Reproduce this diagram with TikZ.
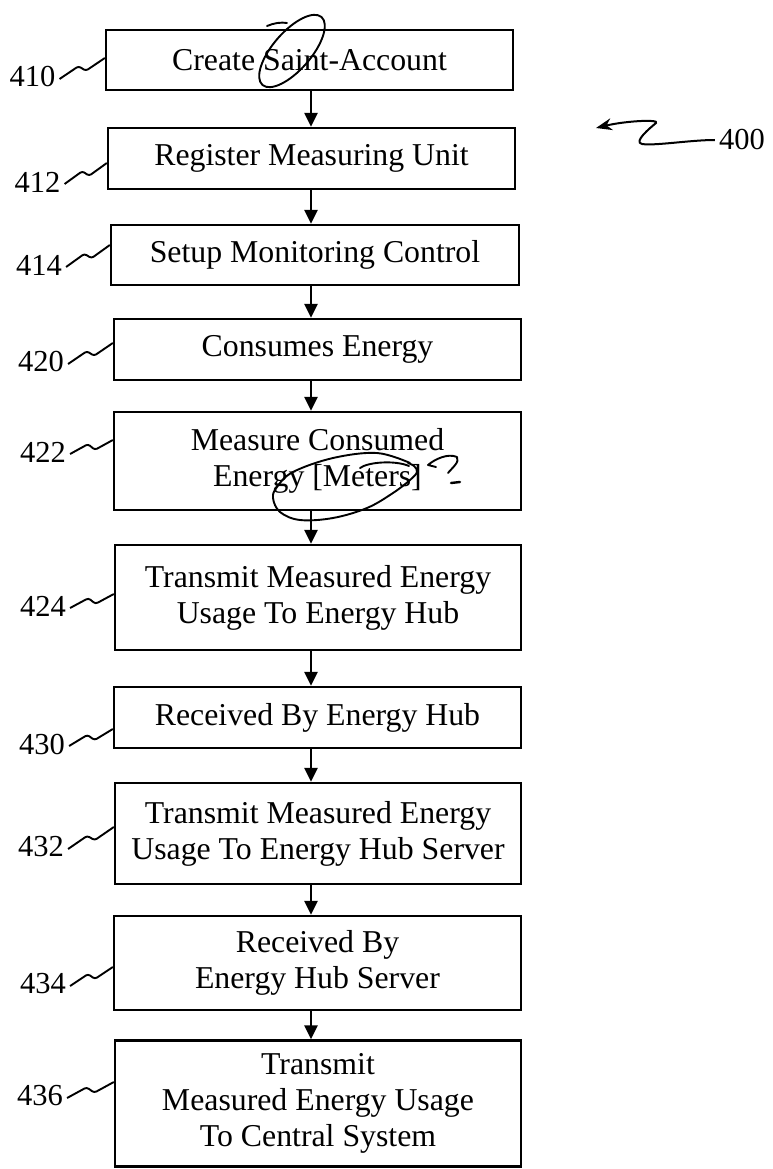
\documentclass[tikz,border=0pt]{standalone}
\usepackage{fontspec}
\setmainfont{Liberation Serif}
\usetikzlibrary{arrows.meta,calc}

\tikzset{
  stepbox/.style={draw, line width=2.3pt, align=center, inner sep=0pt,
    font=\fontsize{31.8}{36}\selectfont},
  flow/.style={line width=2.3pt, -{Triangle[length=14pt,width=13pt]}},
  refnum/.style={inner sep=0pt, font=\fontsize{30.5}{34}\selectfont},
  lead/.style={line width=1.9pt, rounded corners=2.5pt},
  pen/.style={line width=1.9pt, line cap=round, line join=round},
}

% zig-zag leader from a reference numeral to the left side of its box
\newcommand\leadline[3]{%
  \draw[lead] ([shift={(4,2)}]#1.east) coordinate (s-#1)
    -- ($(s-#1)!0.42!(#2.west |- 0,#3)+(0,-4)$)
    -- ($(s-#1)!0.58!(#2.west |- 0,#3)+(0,4)$)
    -- (#2.west |- 0,#3);}

\begin{document}
\begin{tikzpicture}[x=1pt, y=-1pt]
\useasboundingbox (0,0) rectangle (773,1169);

% process steps
\node[stepbox, minimum width=407pt, minimum height=60pt]  (b1)  at (309.5,60)    {Create Saint-Account};
\node[stepbox, minimum width=407pt, minimum height=61pt]  (b2)  at (311.5,158.5) {Register Measuring Unit};
\node[stepbox, minimum width=408pt, minimum height=60pt]  (b3)  at (315,255)     {Setup Monitoring Control};
\node[stepbox, minimum width=407pt, minimum height=61pt]  (b4)  at (317.5,349.5) {Consumes Energy};
\node[stepbox, minimum width=407pt, minimum height=98pt]  (b5)  at (317.5,461)   {Measure Consumed\\Energy [Meters]};
\node[stepbox, minimum width=406pt, minimum height=105pt] (b6)  at (318,597.5)   {Transmit Measured Energy\\Usage To Energy Hub};
\node[stepbox, minimum width=407pt, minimum height=61pt]  (b7)  at (317.5,717.5) {Received By Energy Hub};
\node[stepbox, minimum width=406pt, minimum height=101pt] (b8)  at (318,833.5)   {Transmit Measured Energy\\Usage To Energy Hub Server};
\node[stepbox, minimum width=407pt, minimum height=94pt]  (b9)  at (317.5,963)   {Received By\\Energy Hub Server};
\node[stepbox, minimum width=406pt, minimum height=126pt] (b10) at (318,1103.5)  {Transmit\\Measured Energy Usage\\To Central System};

% flow arrows along a common vertical
\coordinate (ax) at (311,0);
\foreach \a/\b in {b1/b2,b2/b3,b3/b4,b4/b5,b5/b6,b6/b7,b7/b8,b8/b9,b9/b10}
  \draw[flow] (\a.south -| ax) -- (\b.north -| ax);

% reference numerals
\node[refnum] (l410) at (32.5,77)  {410};
\node[refnum] (l412) at (37.5,182) {412};
\node[refnum] (l414) at (39,265)   {414};
\node[refnum] (l420) at (41,362)   {420};
\node[refnum] (l422) at (43,452)   {422};
\node[refnum] (l424) at (43,606)   {424};
\node[refnum] (l430) at (42,744)   {430};
\node[refnum] (l432) at (41,847)   {432};
\node[refnum] (l434) at (43,984)   {434};
\node[refnum] (l436) at (40,1096)  {436};

\leadline{l410}{b1}{58}
\leadline{l412}{b2}{163}
\leadline{l414}{b3}{245}
\leadline{l420}{b4}{343}
\leadline{l422}{b5}{440}
\leadline{l424}{b6}{594}
\leadline{l430}{b7}{729}
\leadline{l432}{b8}{827}
\leadline{l434}{b9}{967}
\leadline{l436}{b10}{1082}

% figure number with its curved pointer
\node[refnum] (l400) at (742,140) {400};
\coordinate (tip400) at (596,128);
\draw[line width=2pt, -{Stealth[length=16pt,width=12pt]}]
  ([xshift=-4pt]l400.west) .. controls (690,140) and (655,146) .. (642,144)
  .. controls (633,142) and (650,128) .. (656,123)
  .. controls (660,119) and (625,121) .. (tip400);

% hand-drawn marks: loop around "Saint"
\draw[pen, rotate around={49:(292,51)}] (292,51) ellipse [x radius=45pt, y radius=19pt];
\draw[pen] (267,26) .. controls (274,23) and (281,22) .. (287,23);

% hand-drawn marks: loop around "[Meters]", question mark and dash
\draw[pen] plot[smooth, tension=0.6] coordinates {
  (410,463) (377,453) (333,458) (293,472) (277,487) (273,498) (280,512)
  (300,520) (333,518) (367,508) (393,493) (410,480) (417,472) (414,466) (408,463)};
\draw[pen] (360,468) .. controls (368,462) and (395,460) .. (409,466);
\draw[pen] (436,467) -- (428,465) .. controls (435,459) and (448,453) .. (457,457)
  .. controls (460,462) and (452,468) .. (448,473);
\draw[pen, line width=2.4pt] (451,483) -- (460,482);
\end{tikzpicture}
\end{document}
